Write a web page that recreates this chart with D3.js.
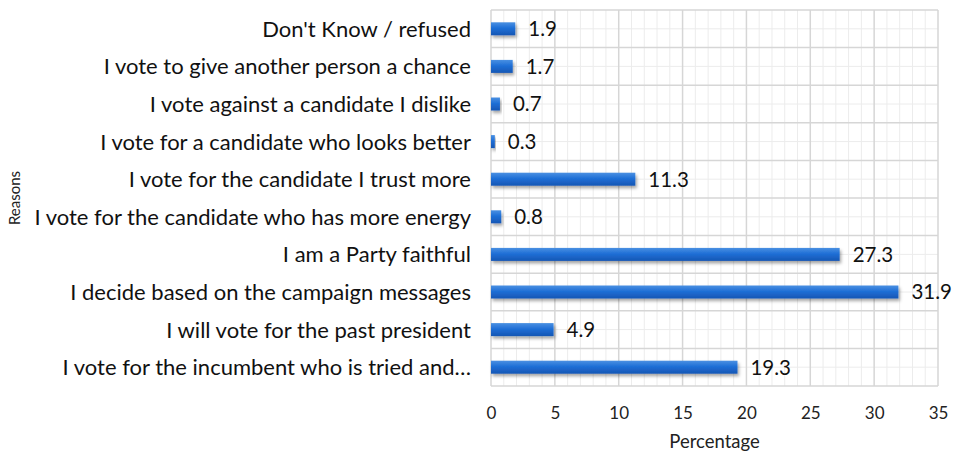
<!DOCTYPE html>
<html>
<head>
<meta charset="utf-8">
<script src="https://cdn.jsdelivr.net/npm/d3@7"></script>
<style>
  body { margin: 0; background: #fff; }
  svg { display: block; font-family: Lato, "Open Sans", sans-serif; }
</style>
</head>
<body>
<div id="chart"></div>
<script>
// data, top to bottom as in the picture
var reasons = [
  "Don't Know / refused",
  "I vote to give another person a chance",
  "I vote against a candidate I dislike",
  "I vote for a candidate who looks better",
  "I vote for the candidate I trust more",
  "I vote for the candidate who has more energy",
  "I am a Party faithful",
  "I decide based on the campaign messages",
  "I will vote for the past president",
  "I vote for the incumbent who is tried and\u2026"
];
var percentages = [1.9, 1.7, 0.7, 0.3, 11.3, 0.8, 27.3, 31.9, 4.9, 19.3];
var xTicks = [0, 5, 10, 15, 20, 25, 30, 35];

var w = 958, h = 455;
var plotL = 491, plotR = 938, plotT = 10, plotB = 386;

var svg = d3.select("#chart").append("svg")
  .attr("width", w)
  .attr("height", h);

var x = d3.scaleLinear().domain([0, 35]).range([plotL, plotR]);
var y = d3.scaleBand().domain(reasons).range([plotT, plotB]).paddingInner(0).paddingOuter(0);

// gradient + shadow for the bars
var defs = svg.append("defs");
var grad = defs.append("linearGradient").attr("id", "barGrad")
  .attr("x1", 0).attr("y1", 0).attr("x2", 0).attr("y2", 1);
grad.append("stop").attr("offset", "0%").attr("stop-color", "#4a90e2");
grad.append("stop").attr("offset", "45%").attr("stop-color", "#1f6fd6");
grad.append("stop").attr("offset", "100%").attr("stop-color", "#1656b4");
var f = defs.append("filter").attr("id", "shadow")
  .attr("x", "-10%").attr("y", "-50%").attr("width", "130%").attr("height", "250%");
f.append("feDropShadow").attr("dx", 1.5).attr("dy", 2.5).attr("stdDeviation", 1.5)
  .attr("flood-color", "#000").attr("flood-opacity", 0.35);

// minor grid
var minorX = d3.range(0, 36, 1).filter(function(d) { return d % 5 != 0; });
svg.append("g").selectAll("line").data(minorX).enter().append("line")
  .attr("x1", function(d) { return x(d); }).attr("x2", function(d) { return x(d); })
  .attr("y1", plotT).attr("y2", plotB)
  .attr("stroke", "#ececec").attr("stroke-width", 1);
svg.append("g").selectAll("line").data(reasons).enter().append("line")
  .attr("x1", plotL).attr("x2", plotR)
  .attr("y1", function(d) { return y(d) + y.bandwidth() / 2; })
  .attr("y2", function(d) { return y(d) + y.bandwidth() / 2; })
  .attr("stroke", "#ececec").attr("stroke-width", 1);

// major grid
svg.append("g").selectAll("line").data(xTicks).enter().append("line")
  .attr("x1", function(d) { return x(d); }).attr("x2", function(d) { return x(d); })
  .attr("y1", plotT).attr("y2", plotB)
  .attr("stroke", "#d6d6d6").attr("stroke-width", 1.5);
svg.append("g").selectAll("line").data(d3.range(reasons.length + 1)).enter().append("line")
  .attr("x1", plotL).attr("x2", plotR)
  .attr("y1", function(i) { return plotT + i * y.step(); })
  .attr("y2", function(i) { return plotT + i * y.step(); })
  .attr("stroke", "#d6d6d6").attr("stroke-width", 1.5);

// bars
var barH = 13;
svg.append("g").selectAll("rect").data(percentages).enter().append("rect")
  .attr("x", x(0))
  .attr("y", function(d, i) { return y(reasons[i]) + y.bandwidth() / 2 - barH / 2; })
  .attr("width", function(d) { return x(d) - x(0); })
  .attr("height", barH)
  .attr("fill", "url(#barGrad)")
  .attr("filter", "url(#shadow)");

// value labels
svg.append("g").selectAll("text").data(percentages).enter().append("text")
  .attr("x", function(d) { return x(d) + 13; })
  .attr("y", function(d, i) { return y(reasons[i]) + y.bandwidth() / 2; })
  .attr("dy", "0.36em")
  .attr("font-size", 20.5)
  .attr("fill", "#111")
  .text(function(d) { return d3.format(".1f")(d); });

// category labels
svg.append("g").selectAll("text").data(reasons).enter().append("text")
  .attr("x", 471)
  .attr("y", function(d) { return y(d) + y.bandwidth() / 2; })
  .attr("dy", "0.36em")
  .attr("text-anchor", "end")
  .attr("font-size", 22)
  .attr("fill", "#111")
  .text(function(d) { return d; });

// x axis
var xAxis = d3.axisBottom(x).tickValues(xTicks).tickSize(0).tickPadding(0);
var gx = svg.append("g").attr("transform", "translate(0,407)").call(xAxis);
gx.select(".domain").remove();
gx.selectAll("text").attr("font-size", 17).attr("font-family", "Lato, sans-serif").attr("fill", "#222");

svg.append("text")
  .attr("x", (plotL + plotR) / 2).attr("y", 448)
  .attr("text-anchor", "middle").attr("font-size", 18.5).attr("fill", "#222")
  .text("Percentage");

svg.append("text")
  .attr("transform", "translate(20," + ((plotT + plotB) / 2) + ") rotate(-90)")
  .attr("text-anchor", "middle").attr("font-size", 15).attr("fill", "#222")
  .text("Reasons");
</script>
</body>
</html>
